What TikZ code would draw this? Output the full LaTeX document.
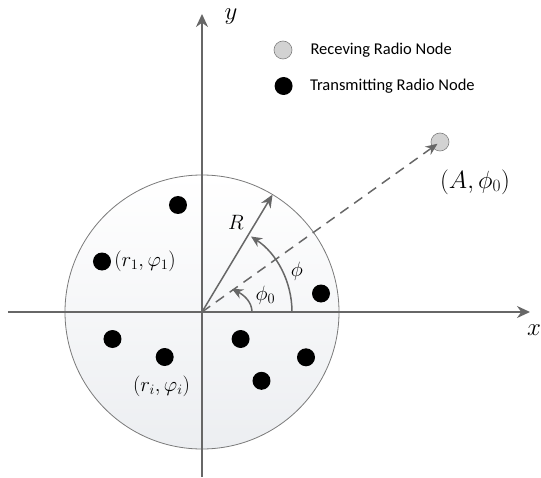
\documentclass[tikz,border=0pt]{standalone}
\usepackage{fontspec}
\newfontfamily\legendfont{Carlito}
\usepackage{tikz}
\usetikzlibrary{arrows.meta,positioning}
\definecolor{axisgray}{HTML}{676767}
\definecolor{rimgray}{HTML}{7A7A7A}
\definecolor{rxfill}{HTML}{D2D2D2}
\definecolor{discbottom}{HTML}{ECEEF1}

\begin{document}
\begin{tikzpicture}[x=1pt, y=1pt, >={Stealth[length=13pt, width=12pt]},
    axis/.style={draw=axisgray, line width=1.8pt, ->},
    radius line/.style={draw=axisgray, line width=1.5pt, -{Stealth[length=13pt, width=11pt]}},
    rayline/.style={draw=axisgray, line width=1.5pt, dash pattern=on 10pt off 7pt, -{Stealth[length=12pt, width=10pt]}},
    angarrow/.style={draw=axisgray, line width=1.5pt, -{Stealth[length=11pt, width=10pt]}},
    txnode/.style={circle, fill=black, inner sep=0pt, minimum size=18pt},
    rxnode/.style={circle, draw=gray, fill=rxfill, line width=0.6pt, inner sep=0pt, minimum size=18pt},
    lbl/.style={font=\fontsize{22}{26}\selectfont, inner sep=0pt},
    biglbl/.style={font=\fontsize{32}{36}\selectfont, inner sep=0pt},
    legtext/.style={font=\legendfont\fontsize{16.5}{20}\selectfont, inner sep=0pt}]

  \useasboundingbox (-202,-165) rectangle (339,312);

  % disc of transmitters
  \coordinate (O) at (0,0);
  \path[draw=rimgray, line width=0.8pt, top color=white, bottom color=discbottom]
    (O) circle (137pt);

  % axes
  \coordinate (xl) at (-194,0);
  \coordinate (xr) at (328,0);
  \coordinate (yb) at (0,-165);
  \coordinate (yt) at (0,298);
  \draw[axis] (xl) -- (xr);
  \draw[axis] (yb) -- (yt);
  \node[biglbl, anchor=west] (xlab) at (325,-18) {$x$};
  \node[biglbl] (ylab) at (29,295) {$y$};

  % transmitting nodes
  \node[txnode] (t1) at (-24,107) {};
  \node[txnode] (t2) at (-100,50.5) {};
  \node[txnode] (t3) at (119,18.5) {};
  \node[txnode] (t4) at (-89.5,-27) {};
  \node[txnode] (t5) at (-37.3,-45) {};
  \node[txnode] (t6) at (38.6,-27) {};
  \node[txnode] (t7) at (104,-45.3) {};
  \node[txnode] (t8) at (59.5,-68.8) {};
  \node[lbl, right=3pt of t2] (t2lab) {$\bigl(r_1,\varphi_1\bigr)$};
  \node[lbl] (t5lab) at (-40.5,-74) {$\bigl(r_i,\varphi_i\bigr)$};

  % receiving node
  \node[rxnode] (rx) at (238,170) {};
  \node[lbl, font=\fontsize{26}{30}\selectfont] (rxlab) at (273,130) {$\bigl(A,\phi_0\bigr)$};
  \draw[rayline, shorten >=3pt] (O) -- (rx.center);

  % radius and angles
  \coordinate (rim) at (59:137);
  \draw[radius line] (O) -- (rim);
  \node[lbl] (Rlab) at (34,90) {$R$};
  \draw[angarrow] (90,0) arc[start angle=0, end angle=57, radius=90pt];
  \node[lbl] (philab) at (95,41) {$\phi$};
  \draw[angarrow] (50,0) .. controls (50,10) and (42,17) .. (30,23);
  \node[lbl] (phi0lab) at (63.5,16.5) {$\phi_0$};

  % legend
  \node[rxnode] (legrx) at (81,262) {};
  \node[legtext, right=18pt of legrx] (legrxtext) {Receving Radio Node};
  \node[txnode] (legtx) at (81.6,226) {};
  \node[legtext, right=17pt of legtx] (legtxtext) {Transmitting Radio Node};
\end{tikzpicture}
\end{document}
